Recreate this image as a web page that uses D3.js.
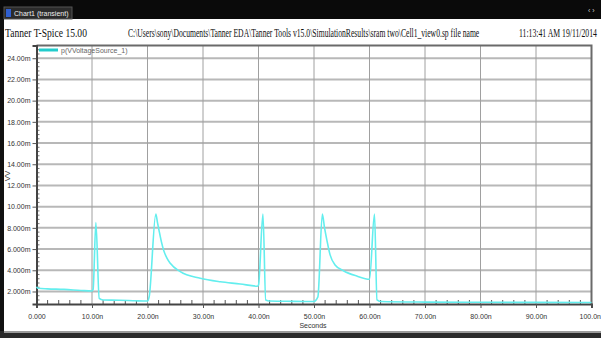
<!DOCTYPE html>
<html>
<head>
<meta charset="utf-8">
<script src="https://cdn.jsdelivr.net/npm/d3@7"></script>
<style>
  body { margin: 0; background: #fff; }
  svg { display: block; }
  .tick text { font-family: "Liberation Sans Narrow", "Liberation Sans", sans-serif; font-size: 7px; fill: #333; }
</style>
</head>
<body>
<svg id="chart" width="601" height="338"></svg>
<script>
// transient result, time in ns, voltage in mV
const timeNs = [0, 0.3, 2, 5, 8, 10, 10.2, 10.7, 11.3, 12, 15, 18, 20, 20.3, 21.5, 21.8, 22.1, 22.5, 22.9, 23.5, 24.1, 25.9, 29.5,
  33.1, 36.7, 39.8, 40.0, 40.8, 41.3, 42, 45, 49.9, 50.7, 51.5, 51.9, 52.3, 52.9, 53.8, 55.3, 57.7, 60.0, 60.9,
  61.35, 62, 70, 80, 90, 100];
const voltage = [2.45, 2.3, 2.25, 2.2, 2.1, 2.05, 2.2, 8.5, 1.35, 1.2, 1.18, 1.12, 1.1, 1.5, 9.3, 8.5, 7.7, 6.7, 5.9, 5.15, 4.66, 3.87, 3.25,
  2.92, 2.71, 2.5, 2.6, 9.3, 1.2, 1.1, 1.08, 1.05, 1.5, 9.3, 8.0, 6.9, 5.45, 4.5, 3.96, 3.46, 3.15, 9.3,
  1.2, 1.05, 1.0, 0.98, 0.97, 0.96];
const xTicks = [0, 10, 20, 30, 40, 50, 60, 70, 80, 90, 100];
const yTicks = [2, 4, 6, 8, 10, 12, 14, 16, 18, 20, 22, 24];
const seriesName = 'p(VVoltageSource_1)';
const headerTexts = ['Tanner T-Spice 15.00',
  'C:\\Users\\sony\\Documents\\Tanner EDA\\Tanner Tools v15.0\\SimulationResults\\sram two\\Cell1_view0.sp file name',
  '11:13:41 AM 19/11/2014'];

const svg = d3.select('#chart');
const W = 601, H = 338;

// window chrome
svg.append('rect').attr('width', W).attr('height', 19).attr('fill', '#0a0a0a');
svg.append('rect').attr('x', 4).attr('y', 7).attr('width', 68).attr('height', 12).attr('fill', '#2b2b2b').attr('stroke', '#555');
svg.append('rect').attr('x', 6).attr('y', 9).attr('width', 5).attr('height', 8).attr('fill', '#2f5fd0');
svg.append('text').attr('x', 14).attr('y', 16).attr('font-family', 'Liberation Sans Narrow, Liberation Sans, sans-serif')
  .attr('font-size', 7).attr('fill', '#eee').text('Chart1 (transient)');
svg.append('text').attr('x', 588).attr('y', 13).attr('font-family', 'Liberation Sans, sans-serif').attr('font-size', 7)
  .attr('fill', '#ccc').text('\u2039 \u203a');
svg.append('rect').attr('x', 0).attr('y', 19).attr('width', 4).attr('height', H - 19).attr('fill', '#111');
svg.append('rect').attr('x', 0).attr('y', 331).attr('width', W).attr('height', 7).attr('fill', '#2a2a2a');
svg.append('rect').attr('x', 4).attr('y', 331).attr('width', W - 4).attr('height', 2).attr('fill', '#9a9a9a');

// header line, squeezed horizontally like the screenshot
const hdrPos = [[5, 82], [128, 352], [519, 78]];
headerTexts.forEach((s, i) => {
  const t = svg.append('text').attr('font-family', 'Liberation Serif, serif').attr('font-size', 12)
    .attr('fill', '#111').text(s);
  const k = hdrPos[i][1] / t.node().getComputedTextLength();
  t.attr('transform', `translate(${hdrPos[i][0]},37) scale(${k},1)`);
});

// plot area
const pLeft = 36.5, pRight = 591.5, pTop = 45.5, pBottom = 304;
const x = d3.scaleLinear().domain([0, 100]).range([pLeft, pRight]);
const y = d3.scaleLinear().domain([0.82, 25.2]).range([pBottom, pTop]);
const fmt = d3.format('.4r');

// grid
svg.append('g').selectAll('line').data(yTicks).join('line')
  .attr('x1', pLeft).attr('x2', pRight).attr('y1', d => y(d)).attr('y2', d => y(d))
  .attr('stroke', '#b8b8b8').attr('stroke-width', 2);
svg.append('g').selectAll('line').data(xTicks.slice(1, -1)).join('line')
  .attr('x1', d => x(d)).attr('x2', d => x(d)).attr('y1', pTop).attr('y2', pBottom)
  .attr('stroke', '#a0a0a0').attr('stroke-width', 1);

// frame
svg.append('path').attr('d', `M${pLeft},${pTop}H${pRight}V${pBottom}`).attr('fill', 'none')
  .attr('stroke', '#6a6a6a').attr('stroke-width', 2);

// minor ticks
const minorX = d3.range(0, 100.01, 2).filter(d => d % 10 !== 0);
svg.append('g').selectAll('line').data(minorX).join('line')
  .attr('x1', d => x(d)).attr('x2', d => x(d)).attr('y1', pBottom).attr('y2', pBottom - 4)
  .attr('stroke', '#555');
const minorY = d3.range(1.2, 25.0, 0.4).filter(d => Math.abs(d / 2 - Math.round(d / 2)) > 0.01);
svg.append('g').selectAll('line').data(minorY).join('line')
  .attr('x1', pLeft).attr('x2', pLeft + 3).attr('y1', d => y(d)).attr('y2', d => y(d))
  .attr('stroke', '#777');

// axes
const xAxis = svg.append('g').attr('transform', `translate(0,${pBottom})`)
  .call(d3.axisBottom(x).tickValues(xTicks).tickSize(4).tickPadding(6)
    .tickFormat(d => d === 0 ? fmt(d) : fmt(d) + 'n'));
xAxis.selectAll('.tick text').filter(d => d === 100).attr('text-anchor', 'end').attr('dx', 9);
const yAxis = svg.append('g').attr('transform', `translate(${pLeft},0)`)
  .call(d3.axisLeft(y).tickValues(yTicks).tickSize(4).tickPadding(2)
    .tickFormat(d => fmt(d) + 'm'));
[xAxis, yAxis].forEach(a => {
  a.select('.domain').attr('stroke', '#444').attr('stroke-width', 2);
  a.selectAll('.tick line').attr('stroke', '#555');
});

// series
const pts = timeNs.map((t, i) => [t, voltage[i]]);
svg.append('path').datum(pts)
  .attr('fill', 'none').attr('stroke', '#63eeee').attr('stroke-width', 1.6).attr('stroke-linejoin', 'round')
  .attr('d', d3.line().x(d => x(d[0])).y(d => y(d[1])).curve(d3.curveMonotoneX));

// legend
svg.append('line').attr('x1', 39).attr('x2', 58).attr('y1', 50).attr('y2', 50)
  .attr('stroke', '#22cccc').attr('stroke-width', 3);
svg.append('text').attr('x', 61).attr('y', 52.5).attr('font-family', 'Liberation Sans Narrow, Liberation Sans, sans-serif')
  .attr('font-size', 7).attr('fill', '#666').text(seriesName);

// axis titles
svg.append('text').attr('transform', 'translate(10,176) rotate(-90)').attr('text-anchor', 'middle')
  .attr('font-family', 'Liberation Sans, sans-serif').attr('font-size', 8).attr('fill', '#333').text('VV');
svg.append('text').attr('x', 313).attr('y', 328).attr('text-anchor', 'middle')
  .attr('font-family', 'Liberation Sans Narrow, Liberation Sans, sans-serif').attr('font-size', 7).attr('fill', '#333')
  .text('Seconds');
</script>
</body>
</html>
